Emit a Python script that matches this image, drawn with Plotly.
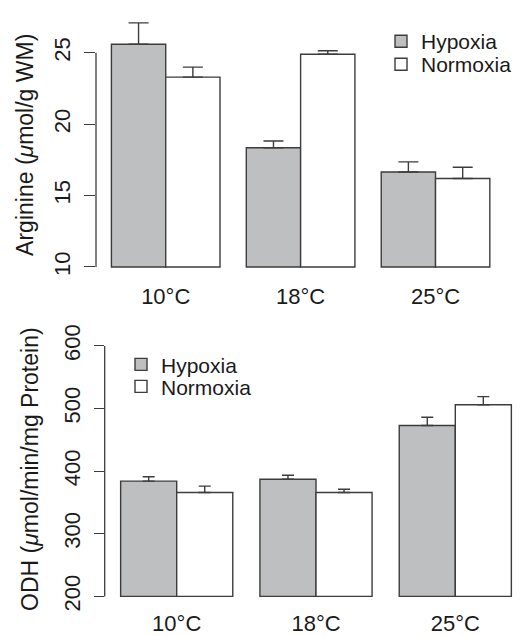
import plotly.graph_objects as go

W, H = 525, 636

temps = ["10°C", "18°C", "25°C"]
arg_hyp = [25.6, 18.35, 16.65]
arg_hyp_se = [1.5, 0.47, 0.71]
arg_norm = [23.3, 24.9, 16.2]
arg_norm_se = [0.7, 0.25, 0.78]
odh_hyp = [384, 387, 473]
odh_hyp_se = [7, 6.5, 13]
odh_norm = [366, 366, 506]
odh_norm_se = [10, 5, 13]

arg_ticks = [10, 15, 20, 25]
odh_ticks = [200, 300, 400, 500, 600]
arg_base = 10
odh_base = 200

GRAY = "#bebfc1"
EDGE = "#3c3c3c"
TXT = "#1a1a1a"
FONT = "Liberation Sans, Arial, sans-serif"
FS = 22
FS_L = 21
FS_T = 23


def px_dom(top_px, bot_px):
    return [1 - bot_px / H, 1 - top_px / H]


fig = go.Figure()


def add_bars(xa, ya, hyp, hyp_se, norm, norm_se, base, capw, legs):
    for (name, vals, se, col), leg in zip(
            [("Hypoxia", hyp, hyp_se, GRAY), ("Normoxia", norm, norm_se, "white")], legs):
        fig.add_trace(go.Bar(
            x=temps, y=[v - base for v in vals], base=[base] * len(vals), name=name,
            marker=dict(color=col, line=dict(color=EDGE, width=1.4)),
            error_y=dict(type="data", array=se, arrayminus=[0] * len(se), symmetric=False,
                         color=EDGE, thickness=1.4, width=capw),
            xaxis=xa, yaxis=ya, legend=leg, showlegend=True,
            hovertemplate=name + " %{x}: %{customdata}<extra></extra>", customdata=vals,
        ))


add_bars("x", "y", arg_hyp, arg_hyp_se, arg_norm, arg_norm_se, arg_base, 10, ["legend", "legend3"])
add_bars("x2", "y2", odh_hyp, odh_hyp_se, odh_norm, odh_norm_se, odh_base, 6, ["legend2", "legend4"])

axfont = dict(family=FONT, size=FS, color=TXT)
common_y = dict(showgrid=False, zeroline=False, showline=False, ticks="outside",
                tickcolor=EDGE, tickwidth=1.3, tickangle=-90, tickfont=axfont)
common_x = dict(showgrid=False, zeroline=False, showline=False, ticks="", tickfont=axfont,
                type="category")


def leg(xpx, ypx):
    return dict(x=xpx / W, y=1 - ypx / H, xanchor="left", yanchor="middle",
                font=dict(family=FONT, size=FS_L, color=TXT), bgcolor="rgba(0,0,0,0)",
                tracegroupgap=0, itemwidth=30)


fig.update_layout(
    width=W, height=H, margin=dict(l=0, r=0, t=0, b=0),
    paper_bgcolor="white", plot_bgcolor="white",
    barmode="group", bargap=0.195, bargroupgap=0,
    font=dict(family=FONT, size=FS, color=TXT),
    xaxis=dict(common_x, domain=[96 / W, 510 / W], range=[-0.5167, 2.552], anchor="y",
               ticklabelstandoff=13),
    yaxis=dict(common_y, domain=px_dom(5.37, 268.2), range=[9.9, 27.5], anchor="x",
               tickvals=arg_ticks, ticklen=11, ticklabelstandoff=5),
    xaxis2=dict(common_x, domain=[104.7 / W, 515 / W], range=[-0.5169, 2.4286], anchor="y2",
                ticklabelstandoff=10),
    yaxis2=dict(common_y, domain=px_dom(340.1, 612.6), range=[198, 614], anchor="x2",
                tickvals=odh_ticks, ticklen=10, ticklabelstandoff=5),
    legend=leg(381, 31),
    legend3=leg(381, 55),
    legend2=leg(121, 369),
    legend4=leg(121, 392),
    shapes=[
        dict(type="line", xref="x domain", yref="y", x0=0, x1=0, y0=arg_ticks[0], y1=arg_ticks[-1],
             line=dict(color=EDGE, width=1.3)),
        dict(type="line", xref="x2 domain", yref="y2", x0=0, x1=0, y0=odh_ticks[0], y1=odh_ticks[-1],
             line=dict(color=EDGE, width=1.3)),
    ],
    annotations=[
        dict(text="Arginine (<i>μ</i>mol/g WM)", textangle=-90, xref="paper", yref="paper",
             x=25 / W, y=1 - 139 / H, showarrow=False, xanchor="center", yanchor="middle",
             font=dict(family=FONT, size=FS_T, color=TXT)),
        dict(text="ODH (<i>μ</i>mol/min/mg Protein)", textangle=-90, xref="paper", yref="paper",
             x=30 / W, y=1 - 478 / H, showarrow=False, xanchor="center", yanchor="middle",
             font=dict(family=FONT, size=FS_T, color=TXT)),
    ],
)

fig.write_html("out.html")
